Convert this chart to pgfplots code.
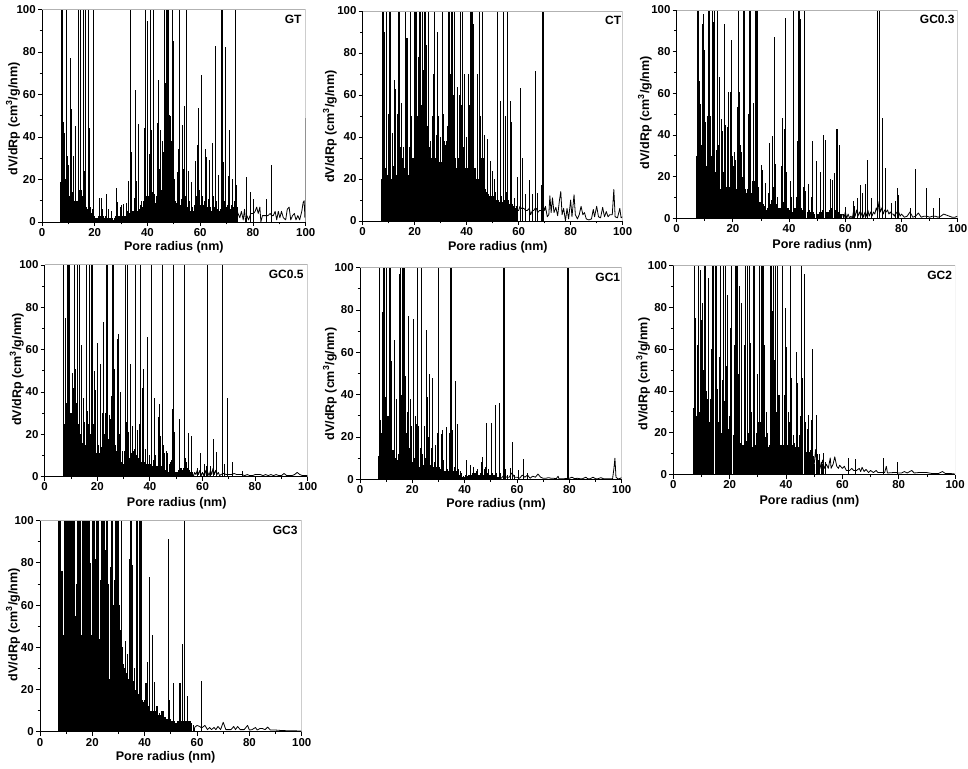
\documentclass[border=0pt]{standalone}
\usepackage{fontspec}
\setmainfont{Liberation Sans}
\usepackage{pgfplots}
\pgfplotsset{compat=1.18}
\pgfplotsset{
  panel/.style={
    scale only axis,
    xmin=0,xmax=100,ymin=0,ymax=100,
    axis x line*=bottom,axis y line*=left,
    axis line style={-,line width=0.7pt},
    xtick={0,20,...,100},ytick={0,20,...,100},
    minor x tick num=1,minor y tick num=1,
    tick align=outside,
    major tick length=3pt,minor tick length=1.8pt,
    tick style={line width=0.6pt,black},
    ticklabel style={font=\bfseries\fontsize{8.6}{10}\selectfont,inner sep=1.5pt},
    /pgf/number format/assume math mode=true,
    label style={font=\bfseries\fontsize{9.4}{11}\selectfont,anchor=center},
    xlabel={Pore radius (nm)},
    ylabel={dV/dRp (cm\textsuperscript{3}/g/nm)},
  },
  lab/.style n args={4}{
    xlabel style={at={(axis description cs:#1,#2)}},
    ylabel style={at={(axis description cs:#3,#4)}},
  },
  spike/.style={ycomb,black,line width=0.7pt,mark=none},
  body/.style={ycomb,black,line width=0.8pt,mark=none},
  trace/.style={black,line width=0.6pt,mark=none,line join=round},
}
\newcommand{\frameit}[2]{%
  \draw[black!30,line width=0.7pt] (rel axis cs:0,1)--(rel axis cs:1,1)--(rel axis cs:1,0);
  \node[font=\bfseries\fontsize{9}{11}\selectfont,anchor=north east,inner sep=0pt] at (rel axis cs:#2,0.975) {#1};
}
\begin{document}
\begin{tikzpicture}[x=1pt,y=1pt]
\path[use as bounding box] (0,0) rectangle (726,576);

% GT
\begin{axis}[panel,at={(31.5pt,409.5pt)},width=197.8pt,height=159.4pt,lab={0.5}{-0.118}{-0.11}{0.485}]
\addplot[spike] coordinates {(7.0,19)(7.3,100)(7.6,100)(7.9,75)(8.2,47)(8.5,42)(8.8,20)(9.1,84)(9.3,100)(9.6,31)(10.0,27)(10.4,12)(10.8,77)(11.1,53)(11.4,14)(11.8,31)(12.1,15)(12.5,45)(12.9,10)(13.3,8)(13.7,70)(14.0,100)(14.4,100)(14.8,15)(15.2,12)(15.8,100)(16.2,24)(16.5,100)(16.9,7)(17.3,6)(17.8,100)(18.1,44)(18.5,7)(19.0,6)(19.6,100)(21.7,11.5)(22.5,11.5)(23,6)(24.3,13)(25.3,6)(26.3,5)(28.2,16)(28.6,9.5)(29.6,7)(30.2,8)(30.8,8.5)(32,9)(32.6,19.5)(33.4,100)(33.8,33)(34.9,11.5)(35.3,62)(35.7,19.5)(36.7,46)(37.2,8)(37.8,10)(38.3,10)(38.9,44)(39.2,100)(39.6,12)(40,94.5)(40.4,12)(40.8,32)(41.2,100)(41.6,43.5)(42,14)(42.4,100)(42.8,13)(43.3,12)(43.9,46.5)(44.1,67)(44.5,25)(45,43.5)(45.5,38)(46,33)(46.5,100)(46.8,65.5)(47.2,100)(47.6,100)(48,100)(48.3,50.5)(48.7,50)(49.2,38)(49.5,100)(49.8,85)(50.2,20)(50.7,10)(51.3,23.5)(51.8,34.5)(52.3,100)(52.8,11)(53.3,45.5)(53.8,25)(54.2,54.5)(54.6,48)(54.9,100)(55.4,24)(56,10)(56.6,19)(57.2,7)(57.8,8)(58.3,28.5)(58.8,36)(59.4,53.5)(59.8,15)(60.4,69)(60.9,12)(61.5,9)(61.9,34.5)(62.4,30.5)(63,11)(63.5,29)(64,7)(64.7,37)(65.1,12)(65.8,83)(66.3,10)(67,22)(67.5,5)(68,100)(68.3,100)(68.7,28)(69.1,10)(69.6,82.5)(70.2,8)(70.8,21.5)(71.2,43.5)(71.7,8)(72.3,20)(73,10)(73.4,100)(73.8,17.5)(74.3,7)(77.7,21)(79.2,14)(80.2,11)(85.1,11)(87.1,27)(99.9,49)};
\addplot[body] coordinates {(7.2,14)(7.6,18)(8,16)(8.4,12)(8.8,15)(9.2,10)(9.6,9)(10,8)(10.4,12)(10.8,8)(11.2,10)(11.6,14)(12,15)(12.4,10)(12.8,9)(13.2,8)(13.6,10)(14,14)(14.4,15)(14.8,12)(15.2,9)(15.6,10)(16,14)(16.4,12)(16.8,6)(17.2,5)(17.6,4)(18,6)(18.4,5)(18.8,4)(19.2,4)(19.6,3)(20,3)(20.4,2)(20.8,2)(21.2,2)(21.6,3)(22,3)(22.4,3)(22.8,2)(23.2,3)(23.6,2)(24,3)(24.4,3)(24.8,2)(25.2,2)(25.6,2)(26,2)(26.4,2)(26.8,2)(27.2,1)(27.6,2)(28,3)(28.4,3)(28.8,3)(29.2,3)(29.6,3)(30,4)(30.4,3)(30.8,4)(31.2,3)(31.6,3)(32,4)(32.4,5)(32.8,4)(33.2,4)(33.6,4)(34,4)(34.4,5)(34.8,5)(35.2,5)(35.6,5)(36,4)(36.4,5)(36.8,6)(37.2,5)(37.6,8)(38,7)(38.4,8)(38.8,9)(39.2,10)(39.6,10)(40,9)(40.4,11)(40.8,12)(41.2,13)(41.6,12)(42,10)(42.4,13)(42.8,10)(43.2,9)(43.6,12)(44,15)(44.4,12)(44.8,14)(45.2,15)(45.6,20)(46,25)(46.4,40)(46.8,50)(47.2,45)(47.6,55)(48,30)(48.4,25)(48.8,28)(49.2,22)(49.6,35)(50,20)(50.4,10)(50.8,9)(51.2,9)(51.6,9)(52,7)(52.4,8)(52.8,7)(53.2,8)(53.6,9)(54,10)(54.4,12)(54.8,10)(55.2,7)(55.6,6)(56,6)(56.4,5)(56.8,5)(57.2,5)(57.6,5)(58,7)(58.4,12)(58.8,15)(59.2,10)(59.6,7)(60,8)(60.4,10)(60.8,9)(61.2,8)(61.6,10)(62,9)(62.4,8)(62.8,7)(63.2,8)(63.6,7)(64,6)(64.4,5)(64.8,7)(65.2,6)(65.6,7)(66,5)(66.4,6)(66.8,6)(67.2,5)(67.6,6)(68,7)(68.4,6)(68.8,8)(69.2,7)(69.6,8)(70,7)(70.4,8)(70.8,9)(71.2,7)(71.6,6)(72,7)(72.4,8)(72.8,7)(73.2,6)(73.6,7)(74,4)};
\addplot[trace] coordinates {(74,5)(75,2)(75.6,5)(76.3,1)(76.8,6)(77.2,0)(77.7,3)(78.3,1)(79.2,4)(79.8,4)(80.2,4)(80.8,5)(81.4,7)(82,4)(82.6,7)(83,0)(83.6,3)(84.5,3)(85.1,3)(85.7,3)(86.5,4)(87.1,3)(87.7,3)(88.4,5)(89,1)(89.6,5)(90.2,2)(90.8,5)(91.5,2)(92.4,1)(93,6)(93.7,7)(94.3,1)(95,3)(95.7,4)(96.3,1)(97,3)(97.7,1)(98.5,5)(99,9)(99.4,10)(99.7,2)(100,5)};
\frameit{GT}{0.985}
\end{axis}

% CT
\begin{axis}[panel,at={(272pt,410.25pt)},width=195pt,height=157.5pt,lab={0.52}{-0.124}{-0.126}{0.45}]
\addplot[spike] coordinates {(7.5,100)(7.9,100)(9,100)(10.3,100)(10.7,100)(13.8,100)(14.2,100)(16.5,100)(18.2,100)(19.8,100)(20.3,100)(20.8,100)(22,100)(22.4,100)(23,100)(23.6,100)(24.2,100)(25.2,100)(27.8,100)(30.5,100)(33,100)(33.5,100)(34,100)(34.6,100)(35.2,100)(37.8,100)(38.3,100)(41.3,100)(41.8,100)(42.2,100)(45,100)(46.2,100)(52,100)(54.2,100)(55.8,100)(69.3,100)(69.6,100)(8.5,90)(10,51)(11.5,42)(12.3,67)(12.7,63)(13.3,51)(15,56)(15.5,35)(16.8,87)(17.3,87)(18.7,50)(19.3,30)(21.3,78)(21.8,78)(23.5,72)(24.5,84)(26,38)(27,50)(27.4,70)(28.2,41)(28.8,90)(29.3,50)(30,40)(31,51)(31.5,38)(32.3,38)(35.8,25)(36.5,64)(37,30)(37.3,60)(39,70)(40,40)(40.7,70)(42.8,94)(43.5,25)(44.2,70)(44.8,68)(46.5,30)(47,41)(48,39)(49,28.5)(50,24)(50.7,20)(51.2,14)(53,57)(53.5,12)(54.8,50)(55.3,14)(56.7,57)(57.3,47)(57.8,8)(58.3,11)(59,7)(59.5,21)(60.5,63.5)(61.5,30)(62.7,13)(64.1,19.5)(65.3,13)(66.3,71.5)(67.3,13.5)(68.8,17)};
\addplot[body] coordinates {(7.2,20)(7.6,30)(8,22)(8.4,28)(8.8,25)(9.2,30)(9.6,22)(10,30)(10.4,26)(10.8,24)(11.2,20)(11.6,18)(12,26)(12.4,20)(12.8,24)(13.2,22)(13.6,30)(14,40)(14.4,35)(14.8,25)(15.2,30)(15.6,28)(16,25)(16.4,32)(16.8,28)(17.2,30)(17.6,22)(18,35)(18.4,28)(18.8,25)(19.2,24)(19.6,30)(20,34)(20.4,45)(20.8,55)(21.2,50)(21.6,60)(22,70)(22.4,60)(22.8,55)(23.2,55)(23.6,65)(24,70)(24.4,60)(24.8,45)(25.2,70)(25.6,35)(26,25)(26.4,30)(26.8,28)(27.2,35)(27.6,40)(28,30)(28.4,25)(28.8,30)(29.2,35)(29.6,28)(30,30)(30.4,28)(30.8,25)(31.2,32)(31.6,30)(32,36)(32.4,34)(32.8,45)(33.2,60)(33.6,70)(34,65)(34.4,70)(34.8,60)(35.2,50)(35.6,30)(36,25)(36.4,30)(36.8,28)(37.2,30)(37.6,45)(38,55)(38.4,30)(38.8,35)(39.2,28)(39.6,25)(40,30)(40.4,25)(40.8,30)(41.2,55)(41.6,60)(42,45)(42.4,25)(42.8,22)(43.2,25)(43.6,20)(44,18)(44.4,20)(44.8,22)(45.2,50)(45.6,30)(46,40)(46.4,18)(46.8,16)(47.2,15)(47.6,14)(48,14)(48.4,13)(48.8,12)(49.2,12)(49.6,12)(50,11)(50.4,12)(50.8,11)(51.2,10)(51.6,10)(52,14)(52.4,10)(52.8,9)(53.2,10)(53.6,9)(54,12)(54.4,10)(54.8,12)(55.2,10)(55.6,14)(56,10)(56.4,8)(56.8,9)(57.2,7)(57.6,8)(58,7)(58.4,6)(58.8,6)};
\addplot[trace] coordinates {(59,7)(59.5,5)(60,5)(60.5,7)(61,6)(61.5,6)(62,6)(62.7,5)(63.3,5)(64.1,6)(64.6,3)(65.3,5)(65.8,5)(66.3,6)(66.8,6)(67.3,4)(68,5)(68.8,5)(69.2,8)(70,5)(70.3,7)(71,2)(71.6,3)(72,12)(72.5,4)(73,11)(73.6,4)(74.3,6.5)(75,2.5)(75.7,10)(76.2,14)(76.7,3)(77.3,6)(78,0)(78.6,6)(79.2,1)(80,10)(80.5,2)(81.3,12.5)(81.8,3)(82.6,1)(83.3,3)(84,7)(84.7,3)(85.3,4)(86,1)(87,0.5)(88,1)(88.7,5.5)(89.2,2)(90,7)(90.7,2)(91.5,1.5)(92.3,6.5)(93,2)(93.7,4.5)(94.4,2)(95,3)(96,3)(96.6,15)(97.1,2)(98,1.5)(98.9,6)(99.4,1.5)(100,2)};
\frameit{CT}{0.995}
\end{axis}

% GC0.3
\begin{axis}[panel,at={(507.5pt,412.3pt)},width=210.8pt,height=156.2pt,lab={0.518}{-0.128}{-0.113}{0.507}]
\addplot[spike] coordinates {(7.4,100)(7.7,100)(11.2,100)(11.6,100)(12.7,100)(13.4,100)(14.6,100)(22.1,100)(23.7,100)(24.2,100)(26,100)(26.4,100)(28.2,100)(28.5,100)(28.8,100)(41.6,100)(43.2,100)(43.5,100)(43.8,100)(45.3,100)(71.3,100)(72,100)(8.2,66)(8.5,55)(9,93.5)(9.7,98)(10,81)(10.4,46)(11,49)(12,49)(13,94)(14,33)(15,35)(15.2,68)(16,47.5)(16.3,42)(17,93.5)(17.5,45)(18,44)(18.5,60.5)(19,60.5)(19.6,85.5)(20,30)(20.6,32)(21,28)(21.5,53.5)(22.5,60.5)(23.2,32)(24,42)(25.5,50)(26.8,18)(27.2,55.5)(27.7,18)(29,15)(30.3,25.5)(30.7,23)(31.6,17)(32.5,12)(33,36)(34.2,39.5)(34.7,87)(35.1,26)(36,10)(37.3,25)(37.7,48)(38.3,43)(38.7,96)(39.2,22)(40.5,18)(41,10)(42.5,10)(43,37)(44,95.5)(45,15)(46,13)(47,16.5)(47.8,10)(48.3,37)(49.6,27.5)(51.3,22)(52.4,40)(53,37.5)(54.8,19)(55.3,18.5)(56.2,21.5)(57,43)(57.3,43)(58,35)(60,5.5)(62.8,8.5)(63.3,6)(64.5,9.5)(65.3,16)(66,12)(67.1,16.5)(68,28)(69.4,9.5)(73.3,48)(74.3,24)(76.3,7.5)(77.7,8.5)(78.6,14.5)(79,11)(83.2,5)(85,23.5)(89,14.5)(91.2,5)(93.5,9.5)};
\addplot[body] coordinates {(7.2,30)(7.6,40)(8,55)(8.4,42)(8.8,35)(9.2,30)(9.6,25)(10,22)(10.4,30)(10.8,25)(11.2,30)(11.6,48)(12,25)(12.4,30)(12.8,48)(13.2,32)(13.6,20)(14,22)(14.4,22)(14.8,20)(15.2,20)(15.6,14)(16,18)(16.4,22)(16.8,22)(17.2,20)(17.6,15)(18,28)(18.4,20)(18.8,15)(19.2,20)(19.6,25)(20,18)(20.4,25)(20.8,20)(21.2,14)(21.6,18)(22,18)(22.4,20)(22.8,35)(23.2,22)(23.6,20)(24,18)(24.4,14)(24.8,12)(25.2,14)(25.6,14)(26,20)(26.4,15)(26.8,12)(27.2,18)(27.6,12)(28,14)(28.4,18)(28.8,12)(29.2,10)(29.6,8)(30,8)(30.4,8)(30.8,7)(31.2,6)(31.6,5)(32,4)(32.4,5)(32.8,7)(33.2,7)(33.6,9)(34,12)(34.4,15)(34.8,20)(35.2,14)(35.6,7)(36,6)(36.4,5)(36.8,5)(37.2,5)(37.6,6)(38,8)(38.4,10)(38.8,10)(39.2,8)(39.6,5)(40,4)(40.4,4)(40.8,3)(41.2,3)(41.6,4)(42,5)(42.4,5)(42.8,10)(43.2,12)(43.6,30)(44,14)(44.4,5)(44.8,4)(45.2,5)(45.6,3)(46,3)(46.4,3)(46.8,4)(47.2,4)(47.6,3)(48,5)(48.4,5)(48.8,3)(49.2,2)(49.6,3)(50,2)(50.4,2)(50.8,3)(51.2,4)(51.6,3)(52,4)(52.4,4)(52.8,3)(53.2,3)(53.6,3)(54,3)(54.4,4)(54.8,5)(55.2,5)(55.6,4)(56,4)(56.4,4)(56.8,4)(57.2,4)(57.6,3)(58,3)(58.4,2)(58.8,2)(59.2,2)};
\addplot[trace] coordinates {(59,2)(59.5,0)(60,3)(60.5,0)(61,2)(61.5,0)(62,1)(62.5,0)(63,4)(63.5,1)(64,4)(64.5,1)(65,3)(65.5,1)(66,3)(66.5,0.5)(67,3)(67.5,1)(68,4)(68.5,1)(69,3)(69.5,1)(70,3)(70.5,2)(71,5)(71.5,3)(72,8)(72.5,3)(73,5)(73.5,2)(74,4)(74.5,3)(75,4)(75.5,2)(76,3)(76.5,2)(77,2)(77.5,1)(78,3)(78.5,2)(79,3)(79.5,1)(80,2)(81,0.5)(82,1)(83,3)(84,0.5)(85,1)(86,2.5)(87,0.5)(88,1)(89,1)(90,0.5)(91,1)(92,1)(93,0.5)(94,1)(95,2)(96,1.5)(97,1)(98,0.5)(99,0.5)(100,1)};
\frameit{GC0.3}{0.99}
\end{axis}

% GC0.5
\begin{axis}[panel,at={(33.5pt,218.5pt)},width=197.3pt,height=158.8pt,lab={0.502}{-0.125}{-0.106}{0.507}]
\addplot[spike] coordinates {(7.3,100)(8.8,100)(9.2,100)(9.6,100)(11.3,100)(12.5,100)(13.2,100)(15.7,100)(17.2,100)(17.6,100)(18,100)(23.5,100)(23.9,100)(25.8,100)(26.2,100)(30.6,100)(31.6,100)(34.4,100)(36.4,100)(40.7,100)(44.6,100)(49.1,100)(53,100)(62,100)(67.5,100)(8,75)(8.5,77)(10.4,49)(11,42)(11.7,51)(12.1,35)(13.8,62)(14.6,37)(15.2,26)(16.3,31)(16.8,25)(18.5,25)(18.9,50)(19.3,41)(20,63)(20.5,15)(21.3,53)(22,30)(22.4,73)(23,30)(24.5,29)(25,27)(25.5,38)(26.6,51)(27,15)(27.5,65)(27.9,67.5)(28.4,20)(29,40)(29.6,12)(30.2,12)(31,26)(32,21)(32.8,53)(33.2,24)(33.7,12)(34.7,10)(35.4,22)(35.9,25)(37,42)(37.6,51)(38.4,13)(38.9,29)(39.2,66)(39.8,10)(41.2,8)(41.9,37)(42.3,10)(43.2,28)(43.5,34.5)(44,19)(45,15)(45.6,11)(46.2,12)(46.8,11)(48.2,8)(48.5,32)(49.5,21)(51.3,27)(53.5,9)(54,7)(54.6,20.5)(55.9,19)(58,4)(59.3,11)(60.7,6)(61.5,5)(63,5)(64.2,18)(65.2,11.5)(68.4,6)(69.6,37)(71.5,7)(75,2.5)};
\addplot[body] coordinates {(7.2,30)(7.6,25)(8,40)(8.4,35)(8.8,45)(9.2,50)(9.6,60)(10,30)(10.4,28)(10.8,25)(11.2,30)(11.6,22)(12,18)(12.4,20)(12.8,25)(13.2,18)(13.6,20)(14,18)(14.4,16)(14.8,14)(15.2,12)(15.6,15)(16,14)(16.4,16)(16.8,12)(17.2,15)(17.6,20)(18,18)(18.4,12)(18.8,10)(19.2,10)(19.6,11)(20,12)(20.4,10)(20.8,11)(21.2,12)(21.6,14)(22,15)(22.4,18)(22.8,20)(23.2,22)(23.6,25)(24,22)(24.4,18)(24.8,15)(25.2,18)(25.6,25)(26,22)(26.4,15)(26.8,10)(27.2,12)(27.6,12)(28,10)(28.4,9)(28.8,8)(29.2,7)(29.6,7)(30,6)(30.4,7)(30.8,8)(31.2,8)(31.6,7)(32,8)(32.4,9)(32.8,10)(33.2,11)(33.6,12)(34,13)(34.4,11)(34.8,10)(35.2,9)(35.6,9)(36,8)(36.4,8)(36.8,7)(37.2,8)(37.6,7)(38,7)(38.4,7)(38.8,6)(39.2,7)(39.6,6)(40,6)(40.4,6)(40.8,5)(41.2,5)(41.6,5)(42,6)(42.4,5)(42.8,5)(43.2,6)(43.6,6)(44,5)(44.4,5)(44.8,4)(45.2,4)(45.6,3)(46,3)(46.4,3)(46.8,3)(47.2,2)(47.6,6)(48,7)(48.4,7)(48.8,7)(49.2,4)(49.6,2)(50,2)(50.4,2)(50.8,3)(51.2,4)(51.6,4)(52,4)(52.4,3)(52.8,4)(53.2,7)(53.6,6)(54,5)(54.4,4)(54.8,3)(55.2,3)(55.6,2)(56,2)};
\addplot[trace] coordinates {(56,2)(56.5,0)(57,2)(57.5,1)(58,3)(58.5,1)(59,3)(59.5,0.5)(60,2)(60.5,0.5)(61,3)(61.5,0.5)(62,2)(62.5,0.5)(63,3)(63.5,1)(64,4)(64.5,1)(65,3)(65.5,1)(66,2)(66.5,0.5)(67,1)(68,1.5)(69,1)(70,1)(71,1)(72,1.5)(73,1)(74,1)(75,1)(76,0.5)(77,1)(78,0.5)(79,0.5)(80,1)(81,1)(82,1)(83,0.5)(84,1)(85,0.5)(86,1)(87,0.5)(88,1)(89,0.5)(90,0.5)(91,1.5)(92,0.5)(93,0.5)(94,0.5)(95,1)(96,2)(97,1)(98,0.5)(99,0.5)(100,0.5)};
\frameit{GC0.5}{0.985}
\end{axis}

% GC1
\begin{axis}[panel,at={(270pt,216.5pt)},width=196.3pt,height=158.7pt,lab={0.52}{-0.117}{-0.115}{0.45}]
\addplot[spike] coordinates {(7.3,100)(9,100)(9.4,100)(10.2,100)(11.3,100)(11.7,100)(15.6,100)(16.1,100)(16.6,100)(17,100)(22,100)(23.5,100)(30,100)(34.7,100)(34.9,100)(54.9,100)(55.2,100)(79.4,100)(79.7,100)(7.6,94)(8,28)(8.7,79)(9.8,39)(10.3,79)(10.7,30)(12,56)(12.6,14)(13,66)(13.3,20)(13.9,38)(14.5,9)(15,97)(15.3,50)(17.4,49)(18,32)(18.7,77)(19.1,38)(19.6,25)(20.5,76)(21,30)(21.5,26)(22.5,25)(23,15)(24,12)(24.7,25)(25.4,70.5)(25.7,39)(26,20)(26.7,50)(27.2,15)(27.8,48)(28.3,8)(29,16)(29.7,22)(30.5,6)(31,21.5)(31.5,23.5)(32,9)(33,24.5)(33.5,5)(34.2,22)(35.2,23.5)(36,6)(36.5,46.5)(37.2,26)(37.7,5)(38.5,4)(40.7,9)(41.5,2)(42.3,7)(43,3)(43.5,6)(44.5,4)(45,5)(46.3,8)(46.8,10.5)(47.5,5)(48.5,26.5)(49,5)(50.2,26.5)(50.7,3)(51.6,35)(52,3)(53.2,36)(53.7,3)(55.5,5)(56.2,2)(57.5,5.5)(58.1,17.5)(59,2)(60.5,4.5)(62.3,9.5)(64,3)};
\addplot[body] coordinates {(7.2,11)(7.6,20)(8,18)(8.4,22)(8.8,25)(9.2,35)(9.6,30)(10,30)(10.4,30)(10.8,28)(11.2,32)(11.6,20)(12,15)(12.4,14)(12.8,14)(13.2,12)(13.6,10)(14,9)(14.4,8)(14.8,12)(15.2,14)(15.6,30)(16,40)(16.4,35)(16.8,30)(17.2,30)(17.6,22)(18,18)(18.4,14)(18.8,15)(19.2,15)(19.6,12)(20,8)(20.4,9)(20.8,10)(21.2,9)(21.6,9)(22,8)(22.4,7)(22.8,6)(23.2,7)(23.6,7)(24,6)(24.4,7)(24.8,6)(25.2,10)(25.6,14)(26,7)(26.4,6)(26.8,7)(27.2,14)(27.6,10)(28,6)(28.4,5)(28.8,6)(29.2,6)(29.6,8)(30,8)(30.4,5)(30.8,5)(31.2,9)(31.6,7)(32,5)(32.4,4)(32.8,4)(33.2,4)(33.6,4)(34,4)(34.4,5)(34.8,6)(35.2,4)(35.6,4)(36,4)(36.4,3)(36.8,4)(37.2,4)(37.6,4)(38,2)(38.4,2)(38.8,3)(39.2,1)(39.6,1.5)(40,1)(40.4,2)(40.8,2)(41.2,1.5)(41.6,1.5)(42,2)(42.4,2)(42.8,2)(43.2,3)(43.6,3)(44,3)(44.4,3)(44.8,3)(45.2,2)(45.6,2)(46,3)(46.4,4)(46.8,3)(47.2,2)(47.6,2)(48,6)(48.4,6)(48.8,3)(49.2,3)(49.6,2)(50,2)(50.4,2)(50.8,2)(51.2,2)(51.6,2)(52,1)(52.4,1)(52.8,1)};
\addplot[trace] coordinates {(53,1)(54,0.5)(55,2)(56,1)(57,1)(58,3)(59,1)(60,1)(61,0.5)(62,2)(63,1)(64,2)(65,0.5)(66,1.5)(67,1)(68,2.5)(69,1)(70,0.5)(71,0.5)(72,0.8)(73,0.5)(74,0.5)(75,0.3)(75.7,1.5)(76,0.3)(78,0.3)(80,0.5)(81,1)(82,0.3)(83,0.5)(84,0.3)(85,0.3)(86.3,1)(87,0.3)(88,0.3)(89,1)(90,0.3)(91,0.3)(92,0.8)(93,0.3)(95,0.3)(96.5,0.3)(97,5)(97.4,10)(97.8,1)(98.5,0.3)(99,0.3)(99.6,0.5)(100,1)};
\frameit{GC1}{0.995}
\end{axis}

% GC2
\begin{axis}[panel,at={(505pt,220pt)},width=211.3pt,height=157pt,lab={0.483}{-0.129}{-0.107}{0.48}]
\addplot[spike] coordinates {(7.5,100)(9,100)(11,100)(11.5,100)(14,100)(14.4,100)(14.8,100)(15.2,100)(16.8,100)(17.8,100)(18.4,100)(20.8,100)(22,100)(22.4,100)(22.8,100)(25.6,100)(26.4,100)(27,100)(28.3,100)(28.8,100)(30.7,100)(31.2,100)(31.6,100)(32,100)(34.6,100)(35,100)(35.4,100)(36.2,100)(36.8,100)(38.7,100)(41.4,100)(45.5,100)(8,75)(8.5,62)(9.5,98)(10,74)(10.5,82)(12,36)(12.6,94)(13.2,36)(13.6,60)(15.6,41)(16.2,56)(17.3,45)(18.8,52)(19.2,86)(19.8,28)(20.3,70)(21.3,19)(21.8,62)(23.2,48)(23.6,90)(24.3,82)(24.8,14)(25.2,62)(27.4,63)(27.8,30)(29.3,14)(29.8,48)(30.2,25)(32.5,62)(33,30)(33.5,20)(34,14)(37.2,38)(37.7,38)(38.2,14)(39.3,38)(39.8,79.5)(40.2,61)(40.8,30)(41.8,35)(42,46)(42.5,19)(43,15)(43.6,58.5)(44,44)(44.6,19)(45.2,28)(45.9,46)(46.4,96)(47,25)(47.5,22)(48,28.5)(48.6,12)(49.2,26)(49.5,60)(49.9,8)(50.7,28.5)(51,10)(51.5,7)(52,10)(52.5,6)(53,5)(53.4,10.5)(54,6)(74.5,8)(79.4,6)(62.2,8)(64.6,7.5)};
\addplot[body] coordinates {(7.2,32)(7.6,30)(8,32)(8.4,28)(8.8,32)(9.2,30)(9.6,25)(10,35)(10.4,60)(10.8,50)(11.2,60)(11.6,40)(12,30)(12.4,20)(12.8,25)(13.2,28)(13.6,30)(14,60)(14.4,70)(14.8,80)(15.2,45)(15.6,30)(16,25)(16.4,20)(16.8,22)(17.2,20)(17.6,25)(18,35)(18.4,25)(18.8,20)(19.2,28)(19.6,22)(20,18)(20.4,16)(20.8,18)(21.2,14)(21.6,30)(22,50)(22.4,60)(22.8,30)(23.2,20)(23.6,18)(24,15)(24.4,14)(24.8,12)(25.2,14)(25.6,18)(26,16)(26.4,30)(26.8,20)(27.2,15)(27.6,16)(28,13)(28.4,14)(28.8,25)(29.2,14)(29.6,20)(30,16)(30.4,18)(30.8,25)(31.2,50)(31.6,60)(32,35)(32.4,22)(32.8,18)(33.2,14)(33.6,13)(34,14)(34.4,25)(34.8,80)(35.2,78)(35.6,60)(36,55)(36.4,40)(36.8,30)(37.2,18)(37.6,16)(38,13)(38.4,14)(38.8,18)(39.2,14)(39.6,13)(40,12)(40.4,14)(40.8,16)(41.2,25)(41.6,18)(42,14)(42.4,14)(42.8,12)(43.2,13)(43.6,14)(44,13)(44.4,13)(44.8,12)(45.2,13)(45.6,12)(46,11)(46.4,14)(46.8,12)(47.2,11)(47.6,12)(48,10)(48.4,11)(48.8,10)(49.2,12)(49.6,9)(50,5)};
\addplot[trace] coordinates {(50,5)(50.5,12)(51,3)(51.8,7)(52.4,3)(53,7)(53.6,3)(54.3,5)(55,3)(55.7,8)(56,3)(56.7,5)(57.3,8.5)(58,4)(58.6,3)(59,4.5)(60,3)(60.7,4)(61.4,2)(62.2,2)(62.6,2)(63.3,3)(64,2)(64.6,2)(65,2)(66,3)(66.5,1.5)(67,3.5)(67.7,1.5)(68.4,2.5)(69.3,1)(70,2)(71,1)(72,2)(72.6,1)(73.5,1)(74.5,1)(75,1)(75.6,4)(76,0.8)(78,1)(79.4,1)(79.8,0.8)(81,0.8)(82,1.5)(83,0.8)(84.6,2)(85.5,0.8)(87,1)(88,1)(90,1)(92,0.5)(94,0.5)(95.5,1.5)(96.5,0.6)(98,0.6)(100,0.3)};
\frameit{GC2}{0.99}
\end{axis}

% GC3
\begin{axis}[panel,at={(30pt,27.2pt)},width=196.3pt,height=158.3pt,lab={0.48}{-0.121}{-0.103}{0.507}]
\addplot[body] coordinates {(7.2,100)(7.6,100)(8,100)(8.4,76)(8.8,46)(9.2,100)(9.6,100)(10,100)(10.4,100)(10.8,100)(11.2,100)(11.6,100)(12,100)(12.4,100)(12.8,100)(13.2,100)(13.6,55)(14,70)(14.4,100)(14.8,100)(15.2,100)(15.6,100)(16,46)(16.4,100)(16.8,100)(17.2,100)(17.6,100)(18,60)(18.4,100)(18.8,100)(19.2,80)(19.6,46)(20,100)(20.4,100)(20.8,100)(21.2,82)(21.6,100)(22,100)(22.4,100)(22.8,44)(23.2,72)(23.6,100)(24,100)(24.4,100)(24.8,100)(25.2,86)(25.6,100)(26,70)(26.3,22)(26.8,78)(27.2,100)(27.6,100)(28,60)(28.4,72)(28.8,100)(29.2,100)(29.6,100)(30,100)(30.4,60)(30.8,48)(31.2,100)(31.6,40)(32,30)(32.4,28)(32.8,43)(33.2,25)(33.6,37)(34.2,82)(34.6,100)(35,100)(35.5,79)(36,30)(36.4,20)(36.8,100)(37.2,100)(37.6,18)(38,100)(38.4,100)(38.8,100)(39.2,15)(39.6,14)(40,15)(40.5,23)(41,33)(41.4,12)(42,73.5)(42.5,10)(43,46)(43.7,23.5)(44,10)(44.6,12)(45,12)(45.6,9)(46,8)(46.4,10)(47,10)(47.6,7)(48,7)(48.6,6)(49.2,91.5)(49.5,15)(50,6)(50.5,5)(51,23)(51.5,5)(52,4)(52.6,5)(53,5)(53.5,23)(54.3,41.5)(54.6,20)(55.1,100)(55.5,5)(56,5)(56.4,17)(57,5)(57.5,5)(58,4)(58.5,3)(59,2)};
\addplot[body] coordinates {(8.2,45)(8.6,46)(13.4,55)(15.8,46)(17.8,50)(19.4,46)(20.2,48)(22.6,44)(25,50)(26.1,40)(26.6,25)(28.2,58)(30.2,60)(30.6,48)(31,45)(31.4,40)(31.8,32)(32.2,30)(32.6,28)(33,28)(33.4,28)(33.8,25)(34.4,30)(34.8,28)(35.2,25)(35.8,24)(36.2,22)(36.6,20)(37,20)(37.4,18)(37.8,18)(38.2,17)(38.6,16)(39,15)(39.4,14)(39.8,14)(40.2,13)(40.7,13)(41.2,12)(41.7,10)(42.2,10)(42.7,9)(43.3,10)(43.9,9)(44.3,10)(44.8,9)(45.3,8)(45.8,7)(46.2,7)(46.8,7)(47.3,6)(47.8,6)(48.3,6)(48.8,5)(49.7,5)(50.2,5)(50.8,4)(51.2,4)(51.8,4)(52.3,3)(52.8,4)(53.2,5)(53.8,6)(54.1,5)(54.9,5)(55.3,4)(55.8,4)(56.2,5)(56.7,5)(57.2,4)(57.8,3)};
\addplot[spike] coordinates {(7.4,100)(9.5,100)(11,100)(12.6,100)(15,100)(17,100)(18.2,100)(19,100)(21,100)(24.3,100)(27.4,100)(29.5,100)(34.8,100)(37,100)(38.6,100)(61.5,24)};
\addplot[trace] coordinates {(59,2)(60,3)(61,2.5)(61.5,2)(62,2)(63,3)(64,1)(64.8,2)(65.5,1)(66.5,2)(67.2,1)(68,2.5)(69,1)(70,4.5)(71,1)(72,1)(73,1)(74,2.5)(74.7,1)(75.5,2.5)(76.5,1)(78,1)(79.3,3)(80,0.8)(81,1)(82.3,2)(83,0.8)(84,1.5)(85,1.5)(86,1)(87,2.2)(88,0.8)(90,0.8)(92,0.6)(94,0.5)(96,0.5)(98,0.4)(100,0.3)};
\frameit{GC3}{0.985}
\end{axis}
\end{tikzpicture}
\end{document}
